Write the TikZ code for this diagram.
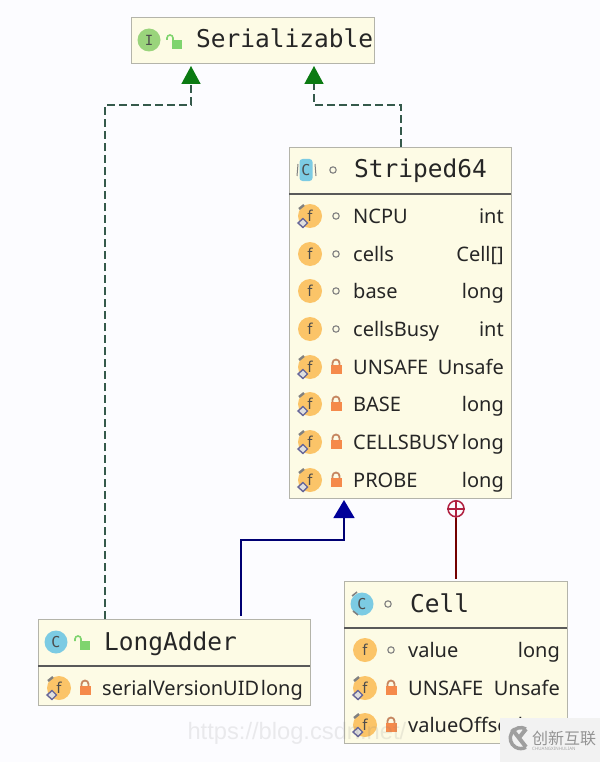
\documentclass[tikz,border=0pt]{standalone}
\usepackage{fontspec}
\setmainfont{Noto Sans}
\newfontfamily\titlefont{DejaVu Sans Mono}
\newfontfamily\markfont{Liberation Sans}
\newfontfamily\cjk{Noto Sans CJK SC}
\usetikzlibrary{arrows.meta, positioning, calc}
\definecolor{boxfill}{HTML}{FDFBE5}
\definecolor{boxline}{HTML}{B4B4AA}
\definecolor{fieldc}{HTML}{FBC468}
\definecolor{classc}{HTML}{7CCBE3}
\definecolor{ifacec}{HTML}{9AD47C}
\definecolor{lockc}{HTML}{F58A4B}
\definecolor{openc}{HTML}{7FD46E}
\definecolor{dashc}{HTML}{35594B}
\definecolor{implc}{HTML}{0B7A12}
\definecolor{plusc}{HTML}{B02040}
\tikzset{
    umlbox/.style={draw=boxline, line width=1pt, fill=boxfill, minimum width=#1, inner sep=0pt, anchor=north west},
    titletext/.style={font=\titlefont\fontsize{24.5}{24}\selectfont, text=black!85, inner sep=0pt, anchor=base west},
    rowtext/.style={font=\fontsize{20}{20}\selectfont, text=black!85, inner sep=0pt, anchor=base west},
    typetext/.style={font=\fontsize{20}{20}\selectfont, text=black!85, inner sep=0pt, anchor=base east},
    letter/.style={font=\fontsize{#1}{#1}\selectfont, text=black!70},
    realize/.style={draw=dashc, line width=1.5pt, dash pattern=on 8pt off 4pt, -{Triangle[length=18pt, width=19pt, color=implc]}},
    extend/.style={draw=blue!45!black, line width=1.5pt, -{Triangle[length=18pt, width=21pt, color=blue!60!black]}},
    innerline/.style={draw=red!45!black, line width=1.5pt}
}
% icons, all placed by their centre
\newcommand{\staticpin}[1]{
    \draw[gray, line width=2.4pt] ($(#1)+(-11,-7)$) -- ($(#1)+(-6,-11)$);
    \draw[gray!80!blue, fill=gray!25, line width=1.4pt] ($(#1)+(-12,7)$) -- ($(#1)+(-7,2.5)$) -- ($(#1)+(-2.5,7)$) -- ($(#1)+(-7,11.5)$) -- cycle;
}
\newcommand{\fieldicon}[1]{
    \node (ic) [circle, fill=fieldc, minimum size=24pt, inner sep=0pt, letter=15] at (#1) {f};
}
\newcommand{\lockicon}[1]{
    \fill[lockc] ($(#1)+(-5.5,-2)$) rectangle ($(#1)+(5.5,7)$);
    \draw[lockc!60!gray, line width=1.8pt] ($(#1)+(-3.5,-2)$) -- ++(0,-2) arc[start angle=180, end angle=360, radius=3.5] -- ++(0,2);
}
\newcommand{\openlock}[1]{
    \fill[openc] ($(#1)+(-1,-1)$) rectangle ($(#1)+(9,8)$);
    \draw[openc, line width=1.6pt] ($(#1)+(-6,-1)$) -- ++(0,-2) arc[start angle=180, end angle=360, radius=3] -- ++(0,3);
}
\newcommand{\pkgdot}[1]{
    \draw[gray, line width=1.1pt] (#1) circle (3.2);
}
\begin{document}
\begin{tikzpicture}[x=1pt, y=-1pt]
    \useasboundingbox (0,0) rectangle (600,762);
    \fill[blue!1!white] (0,0) rectangle (600,762);

    % class boxes
    \node (serializable) [umlbox=243pt, minimum height=46pt] at (131,17) {};
    \node (striped) [umlbox=222pt, minimum height=351pt] at (289,147) {};
    \node (cell) [umlbox=223pt, minimum height=162pt] at (344,581) {};
    \node (longadder) [umlbox=272pt, minimum height=86pt] at (38,619) {};

    \draw[black!65, line width=1.2pt]
        (289,194) -- (511,194)
        (344,628) -- (567,628)
        (38,666) -- (310,666);

    % titles
    \node (t1) [titletext] at (196,48) {Serializable};
    \node (t2) [titletext] at (354,178) {Striped64};
    \node (t3) [titletext] at (410,612) {Cell};
    \node (t4) [titletext] at (104,650) {LongAdder};

    % title icons
    \node (i1) [circle, fill=ifacec, minimum size=23pt, inner sep=0pt, letter=14] at (149,40) {\titlefont I};
    \openlock{173,41}
    \node (i2) [rounded corners=3pt, fill=classc, minimum width=13pt, minimum height=22pt, inner sep=0pt, letter=15] at (306,170) {\titlefont C};
    \draw[gray, line width=1pt] (298,164) -- (297,176) (315,164) -- (316,176);
    \pkgdot{333,170}
    \node (i3) [circle, fill=classc, minimum size=23pt, inner sep=0pt, letter=15] at (362,604) {\titlefont C};
    \draw[gray, line width=1.5pt] (352,596) -- (357,592) (353,611) -- (358,615);
    \pkgdot{388,604}
    \node (i4) [circle, fill=classc, minimum size=23pt, inner sep=0pt, letter=15] at (56,642) {\titlefont C};
    \openlock{81,642}

    % fields of Striped64
    \foreach \y/\fname/\ftype in {216/NCPU/int, 254/cells/Cell[], 291/base/long, 329/cellsBusy/int, 367/UNSAFE/Unsafe, 404/BASE/long, 442/CELLSBUSY/long, 480/PROBE/long} {
        \fieldicon{310,\y}
        \node (n) [rowtext] at (353,\y+7) {\fname};
        \node (v) [typetext] at (504,\y+7) {\ftype};
    }
    \foreach \y in {216, 367, 404, 442, 480} {
        \staticpin{310,\y}
    }
    \foreach \y in {216, 254, 291, 329} {
        \pkgdot{336,\y}
    }
    \foreach \y in {367, 404, 442, 480} {
        \lockicon{336,\y}
    }

    % fields of Cell
    \foreach \y/\fname/\ftype in {650/value/long, 688/UNSAFE/Unsafe, 725/valueOffset/long} {
        \fieldicon{365,\y}
        \node (n) [rowtext] at (408,\y+7) {\fname};
        \node (v) [typetext] at (560,\y+7) {\ftype};
    }
    \staticpin{365,688}
    \staticpin{365,725}
    \pkgdot{391,650}
    \lockicon{391,688}
    \lockicon{391,725}

    % field of LongAdder
    \fieldicon{59,688}
    \staticpin{59,688}
    \lockicon{85,688}
    \node (n) [rowtext] at (102,695) {serialVersionUID};
    \node (v) [typetext] at (303,695) {long};

    % relations
    \coordinate (bendl) at (191,105);
    \coordinate (bendr) at (314,105);
    \coordinate (bendb) at (344,540);
    \draw[realize] ([xshift=67pt]longadder.north west) |- (bendl) -- ([xshift=60pt, yshift=-2pt]serializable.south west);
    \draw[realize] ([xshift=112pt]striped.north west) |- (bendr) -- ([xshift=183pt, yshift=-2pt]serializable.south west);
    \draw[extend] ([xshift=203pt, yshift=3pt]longadder.north west) |- (bendb) -- ([xshift=55pt, yshift=-1pt]striped.south west);
    \node (plus) [circle, draw=plusc, line width=1.5pt, minimum size=16pt, inner sep=0pt, below=1pt of striped.south west, xshift=167pt] {};
    \draw[plusc, line width=1.5pt] (plus.west) -- (plus.east) (plus.north) -- (plus.south);
    \draw[innerline] (plus.south) -- ([xshift=112pt, yshift=2pt]cell.north west);

    % overlay marks in the lower corner
    \node (url) [font=\markfont\fontsize{23.7}{24}\selectfont, text=gray, opacity=.15, anchor=west] at (184,733) {https://blog.csdn.net/};
    \node (logobg) [fill=gray!10, minimum width=100pt, minimum height=44pt, inner sep=0pt, anchor=north west] at (500,718) {};
    \draw[gray!75, line width=3.5pt] (526,729) arc[start angle=-60, end angle=-300, radius=10.5];
    \draw[gray!75, line width=4pt] (512,729) -- (526,747) (526,729) -- (518,739);
    \node (logo) [font=\cjk\fontsize{16}{16}\selectfont, text=gray!85, inner sep=0pt, anchor=west] at (532,738) {创新互联};
    \node (logosub) [font=\fontsize{4.5}{5}\selectfont, text=gray!70, inner sep=0pt, anchor=west] at (532,749) {CHUANGXINHULIAN};
\end{tikzpicture}
\end{document}
